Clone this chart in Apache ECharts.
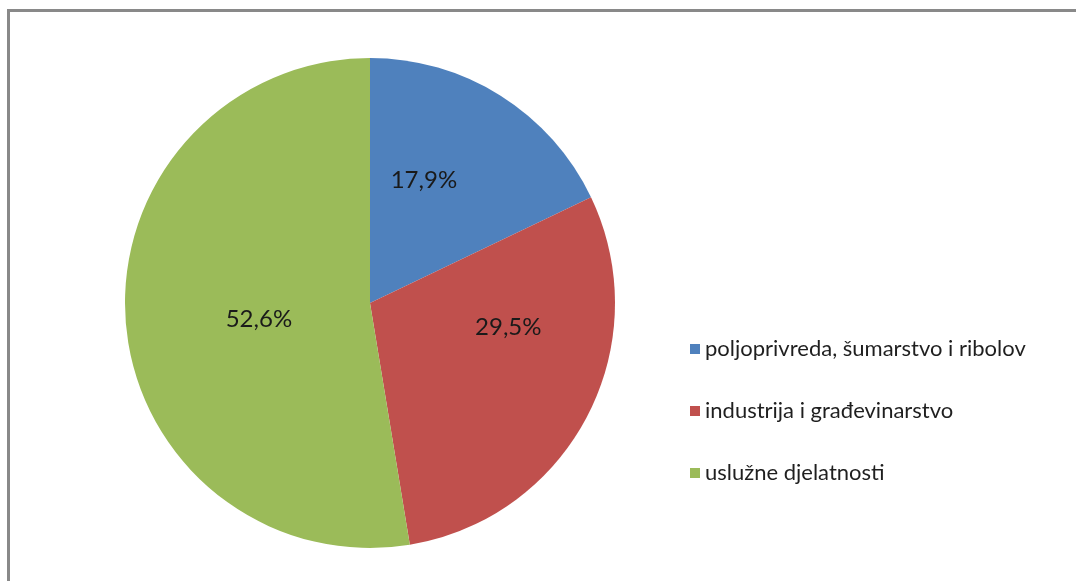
<!DOCTYPE html>
<html>
<head>
<meta charset="utf-8">
<script src="https://cdn.jsdelivr.net/npm/echarts@6/dist/echarts.min.js"></script>
<style>html,body{margin:0;padding:0;background:#fff}#c{width:1076px;height:581px}</style>
</head>
<body>
<div id="c"></div>
<script>
const categories = ['poljoprivreda, šumarstvo i ribolov', 'industrija i građevinarstvo', 'uslužne djelatnosti'];
const values = [17.9, 29.5, 52.6];
const colors = ['#4F81BD', '#C0504D', '#9BBB59'];
const labelOffsets = [[-13, -17], [27, -34], [14, 6]];

const chart = echarts.init(document.getElementById('c'));
chart.setOption({
  animation: false,
  backgroundColor: '#fff',
  graphic: [{
    type: 'rect',
    shape: { x: 8.5, y: 10.5, width: 2000, height: 2000 },
    style: { fill: 'none', stroke: '#898989', lineWidth: 3 },
    silent: true
  }],
  legend: {
    orient: 'vertical',
    left: 685,
    top: 333,
    itemWidth: 10,
    itemHeight: 10,
    itemGap: 40,
    icon: 'rect',
    textStyle: { fontFamily: 'Lato', fontSize: 22, color: '#1f1f1f', lineHeight: 22, padding: [0, 0, 0, 0] },
    data: categories
  },
  series: [{
    type: 'pie',
    center: [370, 303],
    radius: 245,
    startAngle: 90,
    clockwise: true,
    avoidLabelOverlap: false,
    itemStyle: { borderWidth: 0 },
    label: {
      show: true,
      position: 'inside',
      fontFamily: 'Lato',
      fontSize: 24,
      color: '#1a1a1a',
      formatter: p => p.value.toFixed(1).replace('.', ',') + '%'
    },
    labelLine: { show: false },
    emphasis: { disabled: true },
    data: categories.map((n, i) => ({
      name: n,
      value: values[i],
      itemStyle: { color: colors[i] },
      label: { offset: labelOffsets[i] }
    }))
  }]
});
</script>
</body>
</html>
